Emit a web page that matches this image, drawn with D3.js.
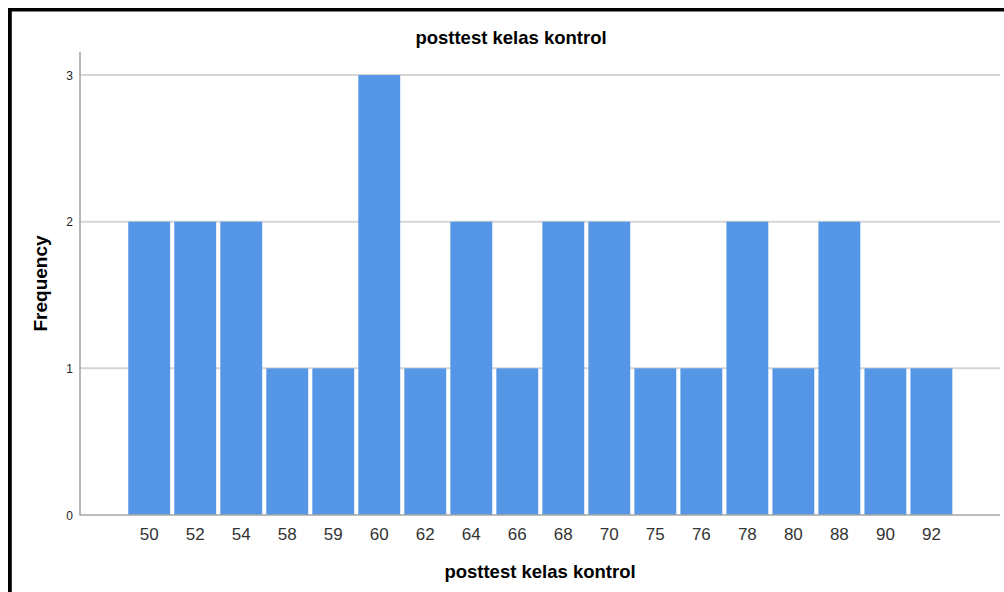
<!DOCTYPE html>
<html><head><meta charset="utf-8">
<script src="https://cdn.jsdelivr.net/npm/d3@7"></script>
<style>body{margin:0;background:#fff;}svg{display:block;}</style>
</head><body>
<script>
const categories = ["50","52","54","58","59","60","62","64","66","68","70","75","76","78","80","88","90","92"];
const frequencies = [2,2,2,1,1,3,1,2,1,2,2,1,1,2,1,2,1,1];
const yTicks = [0,1,2,3];
const chartTitle = "posttest kelas kontrol";
const xTitle = "posttest kelas kontrol";
const yTitle = "Frequency";

const W = 1004, H = 592;
const svg = d3.select("body").append("svg").attr("width", W).attr("height", H);
svg.append("rect").attr("width", W).attr("height", H).attr("fill", "#fff");

// frame lines (top & left)
svg.append("rect").attr("x", 8).attr("y", 8).attr("width", W - 8).attr("height", 3.5).attr("fill", "#000");
svg.append("rect").attr("x", 8).attr("y", 8).attr("width", 3.8).attr("height", H - 8).attr("fill", "#000");

const plotL = 80, plotR = 1000, plotTop = 52;
const y = d3.scaleLinear().domain([0, 3]).range([515, 75]);
const x = d3.scaleBand().domain(categories).range([126.2, 954.4]).paddingInner(0.09).paddingOuter(0.045);

// gridlines
svg.append("g").selectAll("line").data(yTicks.filter(d => d > 0)).join("line")
  .attr("x1", plotL).attr("x2", plotR)
  .attr("y1", d => y(d)).attr("y2", d => y(d))
  .attr("stroke", "#d6d6d6").attr("stroke-width", 2);

// bars
svg.append("g").selectAll("rect").data(categories).join("rect")
  .attr("x", d => x(d)).attr("width", x.bandwidth())
  .attr("y", (d, i) => y(frequencies[i]))
  .attr("height", (d, i) => y(0) - y(frequencies[i]))
  .attr("fill", "#5596e6");

// axes lines
svg.append("line").attr("x1", plotL).attr("x2", plotL).attr("y1", plotTop).attr("y2", y(0) + 0.5)
  .attr("stroke", "#a6a6a6").attr("stroke-width", 1.6);
svg.append("line").attr("x1", plotL).attr("x2", plotR).attr("y1", y(0)).attr("y2", y(0))
  .attr("stroke", "#a6a6a6").attr("stroke-width", 1.6);

// y tick labels
svg.append("g").selectAll("text").data(yTicks).join("text")
  .attr("x", 73).attr("y", d => y(d)).attr("dy", "0.4em")
  .attr("text-anchor", "end")
  .attr("font-family", "'Liberation Sans', Arial, sans-serif")
  .attr("font-size", 12).attr("fill", "#222")
  .text(d => d);

// x tick labels
svg.append("g").selectAll("text").data(categories).join("text")
  .attr("x", d => x(d) + x.bandwidth() / 2).attr("y", 540)
  .attr("text-anchor", "middle")
  .attr("font-family", "'Liberation Sans', Arial, sans-serif")
  .attr("font-size", 17).attr("fill", "#333")
  .text(d => d);

// titles
svg.append("text").attr("x", 511).attr("y", 44).attr("text-anchor", "middle")
  .attr("font-family", "'Liberation Sans', Arial, sans-serif").attr("font-weight", "bold")
  .attr("font-size", 18.5).attr("fill", "#000").text(chartTitle);
svg.append("text").attr("x", (plotL + plotR) / 2).attr("y", 578).attr("text-anchor", "middle")
  .attr("font-family", "'Liberation Sans', Arial, sans-serif").attr("font-weight", "bold")
  .attr("font-size", 18.5).attr("fill", "#000").text(xTitle);
svg.append("text").attr("transform", `translate(47,${(plotTop + y(0)) / 2}) rotate(-90)`)
  .attr("text-anchor", "middle")
  .attr("font-family", "'Liberation Sans', Arial, sans-serif").attr("font-weight", "bold")
  .attr("font-size", 19).attr("fill", "#000").text(yTitle);
</script>
</body></html>
